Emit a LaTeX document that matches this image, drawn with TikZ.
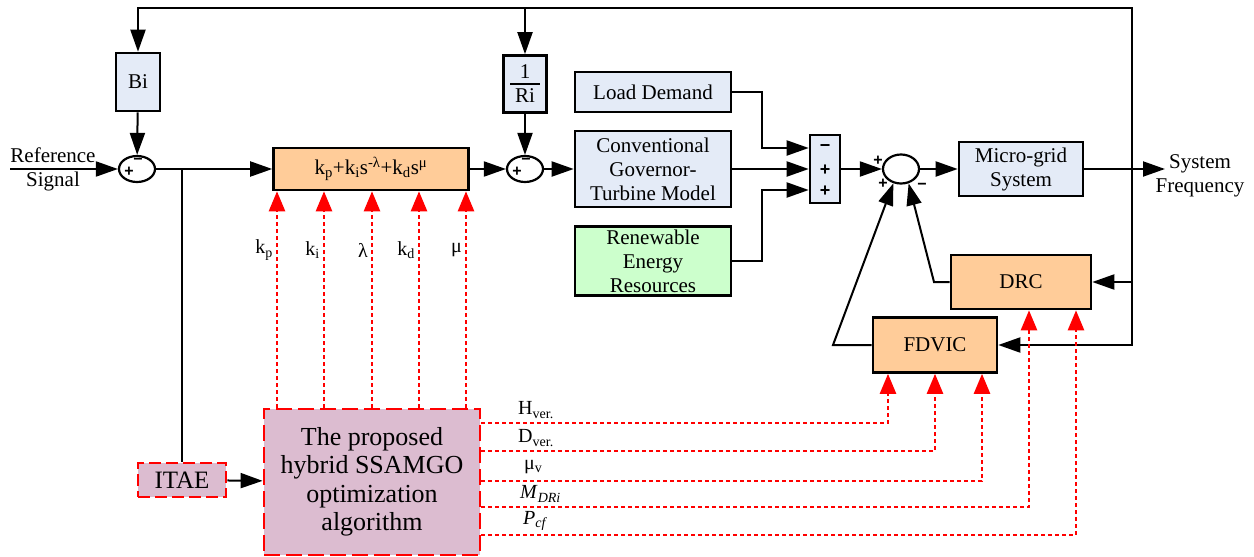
\documentclass[tikz,border=0pt]{standalone}
\usepackage{fontspec}
\setmainfont{Liberation Serif}
\newfontfamily\signfont{Liberation Sans}
\usetikzlibrary{arrows.meta,shapes.geometric}
\definecolor{boxblue}{RGB}{228,235,247}
\definecolor{peach}{RGB}{255,204,153}
\definecolor{lgreen}{RGB}{204,255,204}
\definecolor{mauve}{RGB}{220,188,208}

\begin{document}
\begin{tikzpicture}
	[x=1pt,y=-1pt,
	every node/.style={inner sep=0pt},
	txt/.style={font=\fontsize{21}{24}\selectfont,align=center},
	blk/.style={txt,draw,line width=2.6pt,fill=boxblue},
	pk/.style={blk,fill=peach},
	optb/.style={draw=red,dash pattern=on 16pt off 6pt,line width=2.8pt,fill=mauve,align=center},
	sumc/.style={ellipse,draw,line width=2.2pt,fill=white,minimum width=36pt,minimum height=26pt},
	sgn/.style={font=\signfont\bfseries\fontsize{16}{16}\selectfont},
	ln/.style={line width=2pt},
	arr/.style={ln,-{Triangle[length=22pt,width=15pt]}},
	rarr/.style={red,line width=2.5pt,dash pattern=on 4pt off 3pt,-{Triangle[length=20pt,width=16pt]}},
	lbl/.style={font=\fontsize{20}{20}\selectfont}]
	\useasboundingbox (0,0) rectangle (1254,557);
	% blocks
	\node[blk,minimum width=44pt,minimum height=58pt] (bi) at (138,82) {Bi};
	\node[blk,minimum width=43pt,minimum height=57pt] (ri) at (525,84) {1\\[-18pt]\rule{30pt}{1.6pt}\\[-6pt]Ri};
	\node[pk,minimum width=195pt,minimum height=42pt] (pid) at (371,169) {k\textsubscript{p}+k\textsubscript{i}s\textsuperscript{-λ}+k\textsubscript{d}s\textsuperscript{μ}};
	\node[blk,minimum width=156pt,minimum height=40pt] (ld) at (653,92) {Load Demand};
	\node[blk,minimum width=156pt,minimum height=76pt] (cv) at (653,169) {Conventional\\Governor-\\Turbine Model};
	\node[blk,fill=lgreen,minimum width=156pt,minimum height=69pt] (re) at (653,261) {Renewable\\Energy\\Resources};
	\node[blk,minimum width=30pt,minimum height=68pt] (sb) at (825,169) {};
	\node[blk,minimum width=124pt,minimum height=54pt] (mg) at (1021,169) {Micro-grid\\System};
	\node[pk,minimum width=140pt,minimum height=54pt] (drc) at (1021,282) {DRC};
	\node[pk,minimum width=124pt,minimum height=55pt] (fd) at (935,345) {FDVIC};
	\node[optb,minimum width=216pt,minimum height=146pt,font=\fontsize{26}{28.5}\selectfont] (opt) at (372,482) {The proposed\\hybrid SSAMGO\\optimization\\algorithm};
	\node[optb,dash pattern=on 12pt off 5pt,minimum width=88pt,minimum height=34pt,font=\fontsize{25}{25}\selectfont] (itae) at (182,480) {ITAE};
	% summing points
	\node[sumc] (s1) at (137,169) {};
	\node[sumc] (s2) at (525,169) {};
	\node[sumc,minimum height=29pt] (s3) at (901,169) {};
	\node[sgn] (s1p) at (129,172) {+};
	\node[sgn] (s1m) at (138,161) {−};
	\node[sgn] (s2p) at (517,172) {+};
	\node[sgn] (s2m) at (526,161) {−};
	\node[sgn,font=\signfont\bfseries\fontsize{18}{18}\selectfont] (sbm) at (825,148) {−};
	\node[sgn,font=\signfont\bfseries\fontsize{18}{18}\selectfont] (sbp) at (825,170) {+};
	\node[sgn,font=\signfont\bfseries\fontsize{18}{18}\selectfont] (sbq) at (825,191) {+};
	\node[sgn] (s3a) at (878,161) {+};
	\node[sgn] (s3b) at (883,184) {+};
	\node[sgn] (s3c) at (922,186) {−};
	% texts
	\node[txt] (refsig) at (53,169) {Reference\\Signal};
	\node[txt] (sysf) at (1200,176) {System\\Frequency};
	\coordinate (rin) at (10,169);
	\coordinate (fout) at (1165,169);
	\coordinate (jo) at (1132,169);
	\coordinate (tr) at (1132,8);
	\coordinate (br) at (182,169);
	\coordinate (ldb) at (762,92);
	\coordinate (reb) at (762,261);
	\coordinate (drb) at (934,282);
	\coordinate (fdb) at (833,345);
	% black connectors
	\draw[arr] (rin) -- (s1);
	\draw[arr] (bi) -- (s1);
	\draw[arr] (s1) -- (pid);
	\draw[ln] (br) -- (itae);
	\draw[arr] (itae) -- (opt);
	\draw[arr] (pid) -- (s2);
	\draw[arr] (ri) -- (s2);
	\draw[arr] (s2) -- (cv);
	\draw[arr] (ld) -- (ldb) |- ([yshift=21pt]sb.west);
	\draw[arr] (cv) -- (sb);
	\draw[arr] (re) -- (reb) |- ([yshift=-21pt]sb.west);
	\draw[arr] (sb) -- (s3);
	\draw[arr] (s3) -- (mg);
	\draw[arr] (mg) -- (fout);
	\draw[arr] (jo) -- (tr) -| (bi);
	\draw[arr] (ri |- tr) -- (ri);
	\draw[arr] (jo) |- (fd);
	\draw[arr] (drc -| jo) -- (drc);
	\draw[arr] (drc) -- (drb) -- (s3.-62);
	\draw[arr] (fd) -- (fdb) -- (s3.-118);
	% optimised gains
	\foreach \x/\n/\t in {277/p/{k\textsubscript{p}},324/i/{k\textsubscript{i}},372/l/λ,419/d/{k\textsubscript{d}},466/m/μ}{
		\draw[rarr] (opt.north -| \x,0) -- (pid.south -| \x,0);
		\node[lbl,anchor=east] (g\n) at (\x-4,250) {\t};
	}
	\draw[rarr] (opt.east |- 0,423) -| (fd.south -| 888,0);
	\draw[rarr] (opt.east |- 0,451) -| (fd.south);
	\draw[rarr] (opt.east |- 0,481) -| (fd.south -| 982,0);
	\draw[rarr] (opt.east |- 0,507) -| (drc.south -| 1029,0);
	\draw[rarr] (opt.east |- 0,535) -| (drc.south -| 1076,0);
	\node[lbl,anchor=west] (hv) at (518,410) {H\textsubscript{ver.}};
	\node[lbl,anchor=west] (dv) at (518,438) {D\textsubscript{ver.}};
	\node[lbl,anchor=west] (mv) at (524,467) {μ\textsubscript{v}};
	\node[lbl,anchor=west] (md) at (520,494) {\textit{M}\textsubscript{\textit{DRi}}};
	\node[lbl,anchor=west] (pc) at (523,521) {\textit{P}\textsubscript{\textit{cf}}};
\end{tikzpicture}
\end{document}
